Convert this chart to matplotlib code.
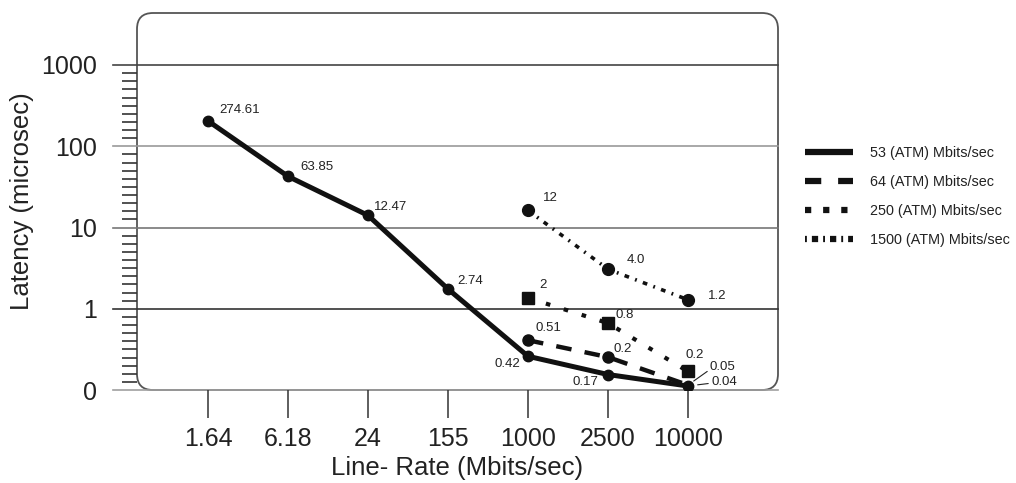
import matplotlib
matplotlib.use("Agg")
import matplotlib.pyplot as plt
from matplotlib.patches import FancyBboxPatch
from matplotlib.lines import Line2D
from matplotlib.ticker import FixedLocator, NullFormatter

plt.rcParams['font.family'] = ['Liberation Sans', 'DejaVu Sans']

# ---------------- data ----------------
categories = ["1.64", "6.18", "24", "155", "1000", "2500", "10000"]

x53 = [0, 1, 2, 3, 4, 5, 6]
atm53 = [205, 42.6, 14.1, 1.75, 0.26, 0.155, 0.112]
labels53 = ["274.61", "63.85", "12.47", "2.74", "0.42", "0.17", "0.04"]

x64 = [4, 5, 6]
atm64 = [0.41, 0.254, 0.115]
labels64 = ["0.51", "0.2", "0.05"]

x250 = [4, 5, 6]
atm250 = [1.36, 0.665, 0.169]
labels250 = ["2", "0.8", "0.2"]

x1500 = [4, 5, 6]
atm1500 = [16.2, 3.07, 1.29]
labels1500 = ["12", "4.0", "1.2"]

series_names = ["53 (ATM) Mbits/sec", "64 (ATM) Mbits/sec",
                "250 (ATM) Mbits/sec", "1500 (ATM) Mbits/sec"]

ytick_values = [0.1, 1, 10, 100, 1000]
ytick_labels = ["0", "1", "10", "100", "1000"]

# ---------------- figure ----------------
W, H = 1016, 483
fig = plt.figure(figsize=(W / 100, H / 100), dpi=100)
ax_l, ax_r, ax_t, ax_b = 137, 778, 13, 390
ax = fig.add_axes([ax_l / W, 1 - ax_b / H, (ax_r - ax_l) / W, (ax_b - ax_t) / H])
ax.set_yscale('log')
px_per_dec = 81.25
ax.set_ylim(0.1, 10 ** (-1 + (ax_b - ax_t) / px_per_dec))
ax.set_xlim((ax_l - 208) / 80, (ax_r - 208) / 80)
for s in ax.spines.values():
    s.set_visible(False)

# rounded frame
aw, ah = ax_r - ax_l, ax_b - ax_t
R = 16
box = FancyBboxPatch((0, 0), 1, 1, boxstyle=f"round,pad=0,rounding_size={R / aw}",
                     mutation_aspect=aw / ah, transform=ax.transAxes,
                     fill=False, edgecolor='#555555', lw=1.3, zorder=1, clip_on=False)
ax.add_patch(box)

# horizontal grid lines extending left of the frame
grid_colors = ['#a0a0a0', '#333333', '#777777', '#999999', '#444444']
ext = -24 / aw
for v, c in zip(ytick_values, grid_colors):
    ax.axhline(v, xmin=ext, xmax=1, color=c, lw=1.2, clip_on=False, zorder=1)

# y ticks
ax.yaxis.set_major_locator(FixedLocator(ytick_values))
ax.set_yticklabels(ytick_labels)
minor = [v * 10 ** (j / 10) for v in ytick_values[:-1] for j in range(1, 10)]
ax.yaxis.set_minor_locator(FixedLocator(minor))
ax.yaxis.set_minor_formatter(NullFormatter())
ax.tick_params(axis='y', which='major', length=0, pad=29, labelsize=18, labelcolor='#222222')
ax.tick_params(axis='y', which='minor', length=11, width=1.2, color='#333333', direction='out')

# x ticks
ax.xaxis.set_major_locator(FixedLocator(range(len(categories))))
ax.set_xticklabels(categories)
ax.tick_params(axis='x', which='major', length=20, width=1.1, color='#333333',
               direction='out', pad=7, labelsize=18, labelcolor='#222222')
ax.tick_params(axis='x', which='minor', length=0)

ax.set_xlabel("Line- Rate (Mbits/sec)", fontsize=18.5, color='#222222', labelpad=3)
ax.set_ylabel("Latency (microsec)", fontsize=18.5, color='#222222', labelpad=5)

k = '#111111'
# series lines
ax.plot(x53, atm53, color=k, lw=3.6, solid_capstyle='round', zorder=4)
ax.plot(x53, atm53, 'o', color=k, ms=7.5, zorder=5)
ax.plot(x64, atm64, color=k, lw=3.2, ls=(0, (3.5, 3.0)), dash_capstyle='butt', zorder=4)
ax.plot(x64[:2], atm64[:2], 'o', color=k, ms=8, zorder=5)
ax.plot(x250, atm250, color=k, lw=3.0, ls=(0, (1.1, 3.4)), dash_capstyle='butt', zorder=4)
ax.plot(x250, atm250, 's', color=k, ms=8, zorder=5)
ax.plot(x1500, atm1500, color=k, lw=2.6, ls=(0, (1.3, 1.8, 0.5, 1.8)), dash_capstyle='butt', zorder=4)
ax.plot(x1500, atm1500, 'o', color=k, ms=8.5, zorder=5)

# annotations (offsets in pixels)
ann_fs = 9.5
off53 = [(11, 11, 'left'), (12, 9, 'left'), (6, 8, 'left'), (9, 8, 'left'),
         (-8, -8, 'right'), (-10, -7, 'right')]
for xi, yi, lab, (dx, dy, ha) in zip(x53, atm53, labels53, off53):
    ax.annotate(lab, (xi, yi), xytext=(dx, dy), textcoords='offset pixels',
                ha=ha, va='center', fontsize=ann_fs, color='#222222', zorder=6)
off64 = [(7, 12, 'left'), (5, 8, 'left')]
for xi, yi, lab, (dx, dy, ha) in zip(x64, atm64, labels64, off64):
    ax.annotate(lab, (xi, yi), xytext=(dx, dy), textcoords='offset pixels',
                ha=ha, va='center', fontsize=ann_fs, color='#222222', zorder=6)
off250 = [(11, 13, 'left'), (7, 8, 'left'), (-2, 16, 'left')]
for xi, yi, lab, (dx, dy, ha) in zip(x250, atm250, labels250, off250):
    ax.annotate(lab, (xi, yi), xytext=(dx, dy), textcoords='offset pixels',
                ha=ha, va='center', fontsize=ann_fs, color='#222222', zorder=6)
off1500 = [(15, 12, 'left'), (19, 9, 'left'), (20, 4, 'left')]
for xi, yi, lab, (dx, dy, ha) in zip(x1500, atm1500, labels1500, off1500):
    ax.annotate(lab, (xi, yi), xytext=(dx, dy), textcoords='offset pixels',
                ha=ha, va='center', fontsize=ann_fs, color='#222222', zorder=6)

# leader-line labels at 10000
ax.annotate(labels64[2], (x64[2], atm64[2]), xytext=(22, 18), textcoords='offset pixels',
            ha='left', va='center', fontsize=ann_fs, color='#222222', zorder=6,
            arrowprops=dict(arrowstyle='-', lw=0.8, color='#222222', relpos=(0, 0.3),
                            shrinkA=0, shrinkB=5))
ax.annotate(labels53[6], (x53[6], atm53[6]), xytext=(23, 4), textcoords='offset pixels',
            ha='left', va='center', fontsize=ann_fs, color='#222222', zorder=6,
            arrowprops=dict(arrowstyle='-', lw=0.8, color='#222222', relpos=(0, 0.4),
                            shrinkA=0, shrinkB=7))

# legend
handles = [
    Line2D([], [], color=k, lw=4.5, solid_capstyle='butt'),
    Line2D([], [], color=k, lw=4.5, ls=(0, (2.6, 2.7)), dash_capstyle='butt'),
    Line2D([], [], color=k, lw=4.5, ls=(0, (1.0, 1.9)), dash_capstyle='butt'),
    Line2D([], [], color=k, lw=4.5, ls=(0, (0.3, 0.8, 1.0, 0.8)), dash_capstyle='butt'),
]
fig.legend(handles, series_names, loc='upper left',
           bbox_to_anchor=(805 / W, 1 - 146 / H), frameon=False,
           fontsize=10.4, handlelength=3.3, handletextpad=1.2,
           labelspacing=1.03, borderpad=0, borderaxespad=0, labelcolor='#222222')

fig.savefig("out.png", dpi=100)
